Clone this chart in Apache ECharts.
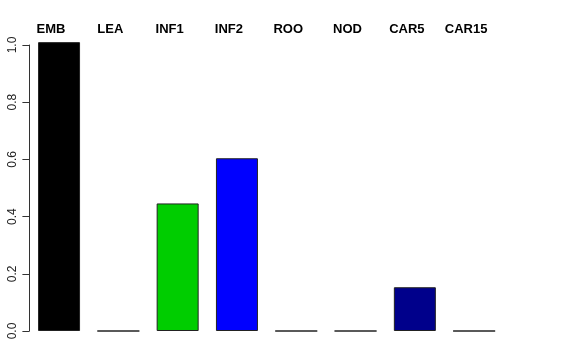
<!DOCTYPE html>
<html>
<head>
<meta charset="utf-8">
<script src="https://cdn.jsdelivr.net/npm/echarts@6/dist/echarts.min.js"></script>
<style>html,body{margin:0;padding:0;background:#fff}#c{width:576px;height:360px}</style>
</head>
<body>
<div id="c"></div>
<script>
var categories = ['EMB', 'LEA', 'INF1', 'INF2', 'ROO', 'NOD', 'CAR5', 'CAR15'];
var values = [1.01, 0, 0.446, 0.604, 0, 0, 0.153, 0];
var yTicks = [0, 0.2, 0.4, 0.6, 0.8, 1.0];
var barColors = ['#000000', '#ffffff', '#00cd00', '#0000ff', '#ffffff', '#ffffff', '#00008b', '#ffffff'];

var chart = echarts.init(document.getElementById('c'), null, {renderer: 'canvas'});
chart.setOption({
  animation: false,
  backgroundColor: '#ffffff',
  grid: {left: 29.4, right: 72.2, top: 45, bottom: 29},
  xAxis: {
    type: 'category',
    position: 'top',
    data: categories,
    axisLine: {show: false},
    axisTick: {show: false},
    axisLabel: {
      show: true,
      interval: 0,
      margin: 9,
      fontFamily: 'Liberation Sans, Arial, sans-serif',
      fontWeight: 'bold',
      fontSize: 13,
      color: '#000',
      padding: [0, 16, 0, 0]
    }
  },
  yAxis: {
    type: 'value',
    min: yTicks[0],
    max: yTicks[yTicks.length - 1],
    interval: 0.2,
    splitLine: {show: false},
    axisLine: {show: true, lineStyle: {color: '#333', width: 1}},
    axisTick: {show: true, length: 7, lineStyle: {color: '#333'}},
    axisLabel: {
      rotate: 90,
      margin: 11,
      fontFamily: 'Liberation Sans, Arial, sans-serif',
      fontSize: 12,
      color: '#222',
      formatter: function (v) { return v.toFixed(1); }
    }
  },
  series: [{
    type: 'bar',
    clip: false,
    barWidth: 42,
    data: values.map(function (v, i) {
      return {value: v, itemStyle: {color: barColors[i]}};
    }),
    itemStyle: {borderColor: '#222', borderWidth: 1}
  }]
});
</script>
</body>
</html>
